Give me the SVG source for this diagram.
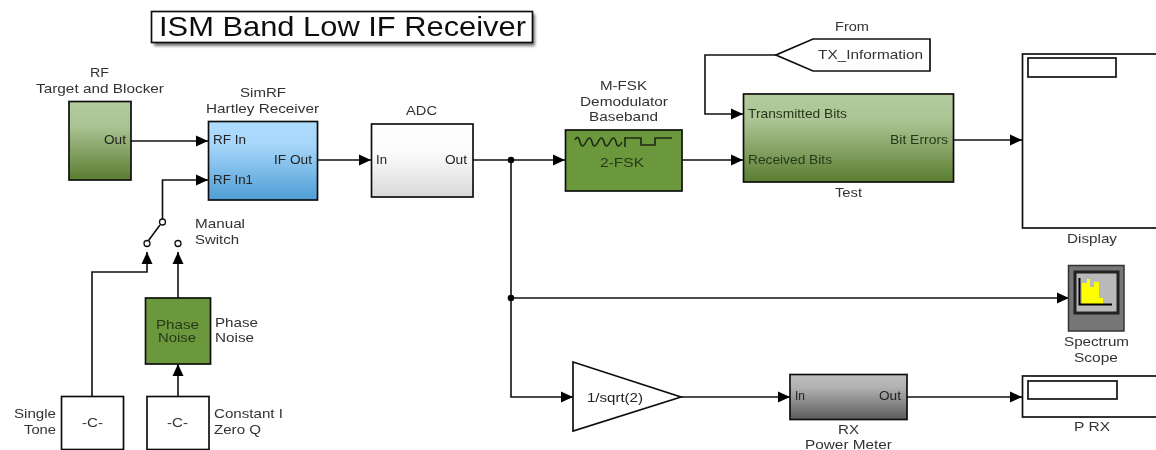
<svg xmlns="http://www.w3.org/2000/svg" width="1156" height="450" viewBox="0 0 1156 450">
<style>
text{font-family:"Liberation Sans",Arial,sans-serif;font-size:13px;fill:#333}
.in{fill:#222}
.b{stroke:#111;stroke-width:1.7}
.w{fill:#fff}
.wire{fill:none;stroke:#111;stroke-width:1.6}
.arr{marker-end:url(#ah)}
.dk{fill:#26391a}
</style>
<defs>
<marker id="ah" markerUnits="userSpaceOnUse" markerWidth="12" markerHeight="12" refX="12" refY="6" orient="auto"><path d="M0 .5 L12 6 L0 11.500 Z" fill="#000"/></marker>
<linearGradient id="gGreen" x1="0" y1="0" x2="0" y2="1"><stop offset="0" stop-color="#b4cb9d"/><stop offset=".3" stop-color="#acc494"/><stop offset="1" stop-color="#5a7d30"/></linearGradient>
<linearGradient id="gBlue" x1="0" y1="0" x2="0" y2="1"><stop offset="0" stop-color="#aedcff"/><stop offset=".3" stop-color="#a6d6fa"/><stop offset="1" stop-color="#4d9dd4"/></linearGradient>
<linearGradient id="gWhite" x1="0" y1="0" x2="0" y2="1"><stop offset="0" stop-color="#fff"/><stop offset=".4" stop-color="#fbfbfb"/><stop offset="1" stop-color="#d9d9d9"/></linearGradient>
<linearGradient id="gGrey" x1="0" y1="0" x2="0" y2="1"><stop offset="0" stop-color="#c0c0c0"/><stop offset=".3" stop-color="#b0b0b0"/><stop offset="1" stop-color="#5c5c5c"/></linearGradient>
<filter id="soft" filterUnits="userSpaceOnUse" x="0" y="0" width="1156" height="450"><feGaussianBlur stdDeviation="0.55"/></filter>
<filter id="sh" x="-5%" y="-20%" width="110%" height="140%"><feGaussianBlur stdDeviation="1.500"/></filter>
</defs>
<rect width="1156" height="450" fill="#fff"/>
<g filter="url(#soft)">
<g id="connectors">
<path class="wire arr" d="M131 141H208"/>
<path class="wire arr" d="M162.500 222V180H208"/>
<path class="wire arr" d="M318 160H371"/>
<path class="wire arr" d="M473 160H565"/>
<path class="wire arr" d="M511 160V397H573"/>
<path class="wire arr" d="M511 298H1069"/>
<path class="wire arr" d="M682 160H743"/>
<path class="wire arr" d="M776 55H705V114H743"/>
<path class="wire arr" d="M954 140H1022"/>
<path class="wire arr" d="M681 397H790"/>
<path class="wire arr" d="M907 397H1022"/>
<path class="wire arr" d="M92 396V272H147V252"/>
<path class="wire arr" d="M178 298V252"/>
<path class="wire arr" d="M178 396V364"/>
<circle cx="511" cy="160" r="3.300" fill="#000"/>
<circle cx="511" cy="298" r="3.300" fill="#000"/>
</g>
<g id="title">
<rect x="154" y="14" width="381" height="32" fill="#777" filter="url(#sh)"/>
<rect x="151.500" y="11.500" width="381" height="31" class="b w"/>
<text x="159" y="35.500" textLength="367" lengthAdjust="spacingAndGlyphs" style="font-size:28px;fill:#111">ISM Band Low IF Receiver</text>
</g>
<g id="rf">
<rect x="69" y="101.500" width="62" height="78.500" class="b" fill="url(#gGreen)"/>
<text x="90" y="77" textLength="19" lengthAdjust="spacingAndGlyphs">RF</text>
<text x="36" y="93" textLength="128" lengthAdjust="spacingAndGlyphs">Target and Blocker</text>
<text x="104" y="144" textLength="22" lengthAdjust="spacingAndGlyphs" class="in">Out</text>
</g>
<g id="hartley">
<rect x="208.500" y="121.500" width="109" height="78.500" class="b" fill="url(#gBlue)"/>
<text x="240" y="97" textLength="46" lengthAdjust="spacingAndGlyphs">SimRF</text>
<text x="206" y="113" textLength="113" lengthAdjust="spacingAndGlyphs">Hartley Receiver</text>
<text x="213" y="144" textLength="33" lengthAdjust="spacingAndGlyphs" class="in">RF In</text>
<text x="274" y="164" textLength="38" lengthAdjust="spacingAndGlyphs" class="in">IF Out</text>
<text x="213" y="184" textLength="40" lengthAdjust="spacingAndGlyphs" class="in">RF In1</text>
</g>
<g id="adc">
<rect x="371.500" y="124" width="101.500" height="73" class="b" fill="url(#gWhite)"/>
<text x="406" y="115" textLength="31" lengthAdjust="spacingAndGlyphs">ADC</text>
<text x="376" y="164" textLength="11" lengthAdjust="spacingAndGlyphs" class="in">In</text>
<text x="445" y="164" textLength="22" lengthAdjust="spacingAndGlyphs" class="in">Out</text>
</g>
<g id="switch">
<path d="M148.500 240.500L160 225" class="wire"/>
<circle cx="162.500" cy="222" r="3" class="w" stroke="#111" stroke-width="1.300"/>
<circle cx="147" cy="243.500" r="3" class="w" stroke="#111" stroke-width="1.300"/>
<circle cx="178" cy="243.500" r="3" class="w" stroke="#111" stroke-width="1.300"/>
<text x="195" y="228" textLength="50" lengthAdjust="spacingAndGlyphs">Manual</text>
<text x="195" y="244" textLength="44" lengthAdjust="spacingAndGlyphs">Switch</text>
</g>
<g id="phase-noise">
<rect x="145.500" y="298" width="65" height="66" class="b" fill="#6c983c"/>
<text x="156" y="329" textLength="43" lengthAdjust="spacingAndGlyphs" class="dk">Phase</text>
<text x="158" y="342" textLength="38" lengthAdjust="spacingAndGlyphs" class="dk">Noise</text>
<text x="215" y="327" textLength="43" lengthAdjust="spacingAndGlyphs">Phase</text>
<text x="215" y="342" textLength="39" lengthAdjust="spacingAndGlyphs">Noise</text>
</g>
<g id="single-tone">
<rect x="61.500" y="396.500" width="62" height="53" class="b w"/>
<text x="82" y="427" textLength="21" lengthAdjust="spacingAndGlyphs">-C-</text>
<text x="14" y="418" textLength="42" lengthAdjust="spacingAndGlyphs">Single</text>
<text x="24" y="434" textLength="32" lengthAdjust="spacingAndGlyphs">Tone</text>
</g>
<g id="constant">
<rect x="147" y="396.500" width="62" height="53" class="b w"/>
<text x="167" y="427" textLength="21" lengthAdjust="spacingAndGlyphs">-C-</text>
<text x="214" y="418" textLength="69" lengthAdjust="spacingAndGlyphs">Constant I</text>
<text x="214" y="434" textLength="47" lengthAdjust="spacingAndGlyphs">Zero Q</text>
</g>
<g id="fsk">
<rect x="565.500" y="130" width="116.500" height="61" class="b" fill="#6c983c"/>
<path d="M575 140Q578 134 580 142T586 142T592 142T598 142T604 142T610 142T616 142T622 142M625 137V147M625 138H641V145H655V138H672" fill="none" stroke="#1d2a12" stroke-width="1.600"/>
<text x="600" y="167" textLength="44" lengthAdjust="spacingAndGlyphs" class="dk">2-FSK</text>
<text x="600" y="90" textLength="47" lengthAdjust="spacingAndGlyphs">M-FSK</text>
<text x="580" y="106" textLength="88" lengthAdjust="spacingAndGlyphs">Demodulator</text>
<text x="589" y="121" textLength="69" lengthAdjust="spacingAndGlyphs">Baseband</text>
</g>
<g id="from">
<path d="M776 55L813 39H930V71H813Z" class="b w"/>
<text x="835" y="31" textLength="34" lengthAdjust="spacingAndGlyphs">From</text>
<text x="818" y="59" textLength="105" lengthAdjust="spacingAndGlyphs">TX_Information</text>
</g>
<g id="test">
<rect x="743.500" y="94" width="210" height="88" class="b" fill="url(#gGreen)"/>
<text x="748" y="118" textLength="99" lengthAdjust="spacingAndGlyphs" class="dk">Transmitted Bits</text>
<text x="748" y="164" textLength="84" lengthAdjust="spacingAndGlyphs" class="dk">Received Bits</text>
<text x="890" y="144" textLength="58" lengthAdjust="spacingAndGlyphs" class="dk">Bit Errors</text>
<text x="835" y="197" textLength="27" lengthAdjust="spacingAndGlyphs">Test</text>
</g>
<g id="display">
<rect x="1022.500" y="54" width="150" height="174" class="b w"/>
<rect x="1028" y="58" width="88" height="19" class="b w"/>
<text x="1067" y="243" textLength="50" lengthAdjust="spacingAndGlyphs">Display</text>
</g>
<g id="spectrum">
<rect x="1068.500" y="265.500" width="55.500" height="65.500" fill="#777" stroke="#333" stroke-width="1.500"/>
<rect x="1075" y="272" width="43" height="41" fill="#b9b9b9" stroke="#222" stroke-width="3"/>
<path d="M1082 304V283H1087V279H1090V287H1094V282H1099V298H1103V304Z" fill="#ff0"/>
<path d="M1079.500 278V304.500H1112" fill="none" stroke="#000" stroke-width="2"/>
<text x="1064" y="346" textLength="65" lengthAdjust="spacingAndGlyphs">Spectrum</text>
<text x="1074" y="362" textLength="44" lengthAdjust="spacingAndGlyphs">Scope</text>
</g>
<g id="gain">
<path d="M573 362L681 397L573 431Z" class="b w"/>
<text x="587" y="402" textLength="56" lengthAdjust="spacingAndGlyphs" class="in">1/sqrt(2)</text>
</g>
<g id="rx">
<rect x="790" y="374.500" width="117" height="45" class="b" fill="url(#gGrey)"/>
<text x="795" y="400" textLength="10" lengthAdjust="spacingAndGlyphs" class="in">In</text>
<text x="879" y="400" textLength="22" lengthAdjust="spacingAndGlyphs" class="in">Out</text>
<text x="838" y="434" textLength="21" lengthAdjust="spacingAndGlyphs">RX</text>
<text x="805" y="449" textLength="87" lengthAdjust="spacingAndGlyphs">Power Meter</text>
</g>
<g id="prx">
<rect x="1022.500" y="376" width="150" height="41" class="b w"/>
<rect x="1028" y="381" width="89" height="18" class="b w"/>
<text x="1074" y="431" textLength="36" lengthAdjust="spacingAndGlyphs">P RX</text>
</g>
</g>
</svg>
